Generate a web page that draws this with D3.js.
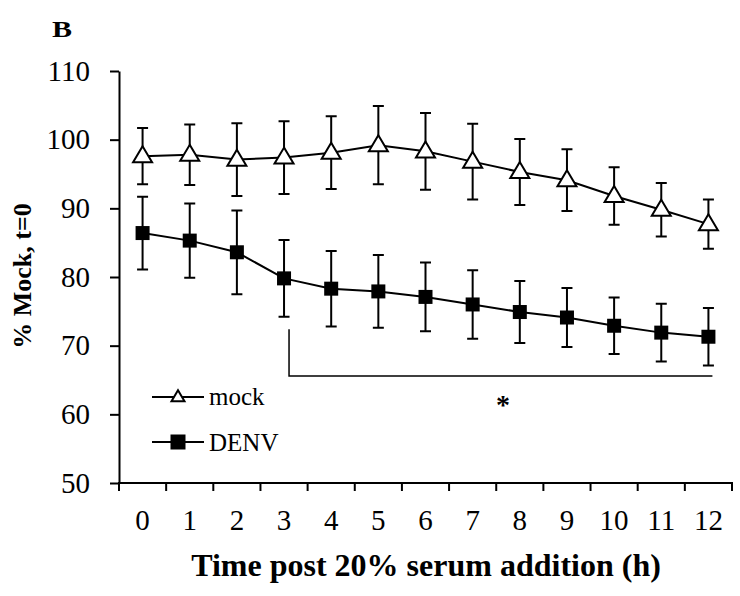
<!DOCTYPE html>
<html>
<head>
<meta charset="utf-8">
<script src="https://cdn.jsdelivr.net/npm/d3@7"></script>
<style>
body { margin: 0; background: #fff; }
text { font-family: "Liberation Serif", "Times New Roman", serif; fill: #000; }
</style>
</head>
<body>
<svg width="740" height="596"></svg>
<script>
// data
var hours = [0, 1, 2, 3, 4, 5, 6, 7, 8, 9, 10, 11, 12];
var mockMean = [97.6, 97.8, 97.1, 97.4, 98.1, 99.2, 98.3, 96.8, 95.3, 94.1, 91.8, 89.8, 87.7];
var mockErr  = [4.1, 4.4, 5.3, 5.3, 5.3, 5.7, 5.6, 5.5, 4.8, 4.5, 4.2, 3.9, 3.6];
var denvMean = [86.4, 85.3, 83.6, 79.8, 78.3, 77.9, 77.1, 76.0, 74.9, 74.1, 72.9, 71.9, 71.3];
var denvErr  = [5.3, 5.4, 6.1, 5.6, 5.5, 5.3, 5.0, 5.0, 4.5, 4.3, 4.1, 4.2, 4.2];
var yTicks = [50, 60, 70, 80, 90, 100, 110];

var svg = d3.select("svg");
var mLeft = 119, mRight = 732, mTop = 71, mBottom = 483;

var x = d3.scaleBand().domain(hours).range([mLeft, mRight]);
var y = d3.scaleLinear().domain([50, 110]).range([mBottom, mTop]);
var cx = function(i) { return x(hours[i]) + x.bandwidth() / 2; };

// panel letter (glyph in the figure is a bit wide)
svg.append("text").attr("transform", "translate(52,37) scale(1.25,1)")
	.style("font-size", "24px").style("font-weight", "bold").text("B");

// y axis
var gy = svg.append("g").attr("transform", "translate(" + mLeft + ",0)")
	.call(d3.axisLeft(y).tickValues(yTicks).tickSize(9).tickPadding(20).tickSizeOuter(0));
gy.select(".domain").attr("stroke", "#000").attr("stroke-width", 2);
gy.selectAll(".tick line").attr("stroke-width", 2);
gy.selectAll(".tick text").style("font-size", "29px").style("font-family", "Liberation Serif");

// x axis (ticks between categories)
var gx = svg.append("g").attr("transform", "translate(0," + mBottom + ")");
gx.append("line").attr("x1", mLeft - 1).attr("x2", mRight + 1).attr("stroke", "#000").attr("stroke-width", 2);
var bounds = hours.map(function(h) { return x(h); }).concat([mRight]);
gx.selectAll("line.tk").data(bounds).enter().append("line")
	.attr("class", "tk")
	.attr("x1", function(d) { return d; }).attr("x2", function(d) { return d; })
	.attr("y1", 0).attr("y2", 8).attr("stroke", "#000").attr("stroke-width", 2);
gx.selectAll("text").data(hours).enter().append("text")
	.attr("x", function(d) { return x(d) + x.bandwidth() / 2; })
	.attr("y", 47)
	.attr("text-anchor", "middle")
	.style("font-size", "29px")
	.text(function(d) { return d; });

// axis titles
svg.append("text").attr("x", 426).attr("y", 576).attr("text-anchor", "middle")
	.style("font-size", "32px").style("font-weight", "bold")
	.text("Time post 20% serum addition (h)");
svg.append("text").attr("transform", "translate(31,276) rotate(-90)").attr("text-anchor", "middle")
	.style("font-size", "26px").style("font-weight", "bold")
	.text("% Mock, t=0");

// significance bracket
var bx0 = cx(3) + 5, bx1 = cx(12) + 4;
svg.append("path")
	.attr("d", "M" + bx0 + "," + y(72.4) + "V" + y(65.6) + "H" + bx1)
	.attr("fill", "none").attr("stroke", "#000").attr("stroke-width", 1.5);
svg.append("text").attr("x", 503).attr("y", 414).attr("text-anchor", "middle")
	.style("font-size", "28px").style("font-weight", "bold").text("*");

function drawSeries(means, errs, shape) {
	var g = svg.append("g");
	var pts = means.map(function(m, i) { return { i: i, m: m, e: errs[i] }; });
	// error bars
	pts.forEach(function(p) {
		var px = cx(p.i), y0 = y(p.m - p.e), y1 = y(p.m + p.e);
		g.append("path")
			.attr("d", "M" + px + "," + y0 + "V" + y1 + "M" + (px - 5.5) + "," + y0 + "H" + (px + 5.5) +
				"M" + (px - 5.5) + "," + y1 + "H" + (px + 5.5))
			.attr("fill", "none").attr("stroke", "#000").attr("stroke-width", 2);
	});
	g.append("path").datum(pts)
		.attr("d", d3.line().x(function(d) { return cx(d.i); }).y(function(d) { return y(d.m); }))
		.attr("fill", "none").attr("stroke", "#000").attr("stroke-width", 2);
	pts.forEach(function(p) { shape(g, cx(p.i), y(p.m)); });
}

function tri(g, px, py, w, h) {
	w = w || 19; h = h || 16;
	g.append("path")
		.attr("d", "M" + px + "," + (py - h * 0.62) + "L" + (px + w / 2) + "," + (py + h * 0.38) +
			"L" + (px - w / 2) + "," + (py + h * 0.38) + "Z")
		.attr("fill", "#fff").attr("stroke", "#000").attr("stroke-width", 2);
}
function sq(g, px, py, s) {
	s = s || 14;
	g.append("rect").attr("x", px - s / 2).attr("y", py - s / 2).attr("width", s).attr("height", s)
		.attr("fill", "#000");
}

drawSeries(mockMean, mockErr, tri);
drawSeries(denvMean, denvErr, sq);

// legend
var lg = svg.append("g");
lg.append("line").attr("x1", 152).attr("x2", 204).attr("y1", 397).attr("y2", 397).attr("stroke", "#000").attr("stroke-width", 2);
tri(lg, 178, 397, 13, 11);
lg.append("text").attr("x", 209).attr("y", 405).style("font-size", "25px").text("mock");
lg.append("line").attr("x1", 152).attr("x2", 204).attr("y1", 442).attr("y2", 442).attr("stroke", "#000").attr("stroke-width", 2);
sq(lg, 178, 442, 15);
lg.append("text").attr("x", 209).attr("y", 451).style("font-size", "25px").text("DENV");
</script>
</body>
</html>
